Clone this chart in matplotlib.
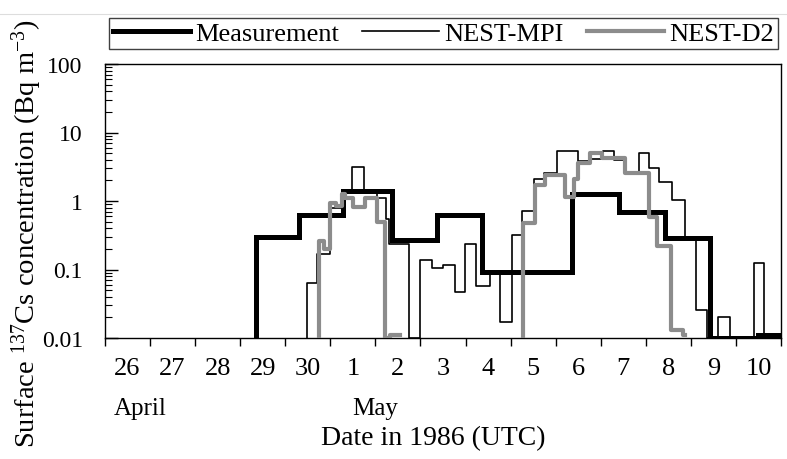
import matplotlib
matplotlib.use('Agg')
import matplotlib.pyplot as plt
import numpy as np
from matplotlib.ticker import FixedLocator, FixedFormatter, LogLocator, NullFormatter
from matplotlib.lines import Line2D

plt.rcParams['font.family'] = ['Liberation Serif', 'DejaVu Serif']
plt.rcParams['mathtext.fontset'] = 'custom'
plt.rcParams['mathtext.rm'] = 'Liberation Serif'
plt.rcParams['mathtext.it'] = 'Liberation Serif:italic'

# x = days since 26 April 1986 00:00 UTC (step edges, steps-post)
t_meas = [3.34, 3.34, 4.31, 5.28, 6.36, 7.37, 8.36, 10.37, 11.40, 12.43, 13.42, 14.48, 15.0]
v_meas = [0.01, 0.30, 0.63, 1.41, 0.27, 0.63, 0.091, 1.25, 0.68, 0.29, 0.01, 0.011, 0.011]

t_mpi = [4.49, 4.49, 4.71, 4.99, 5.30, 5.47, 5.75, 6.03, 6.23, 6.31,
         6.75, 7.00, 7.25, 7.51, 7.77, 7.99, 8.24, 8.54, 8.76, 9.02,
         9.25, 9.53, 9.75, 10.02, 10.50, 10.77, 11.05, 11.30, 11.54, 11.84,
         12.06, 12.30, 12.58, 12.86, 13.11, 13.35, 13.61, 13.86, 14.41, 14.63,
         14.91, 15.0]
v_mpi = [0.01, 0.064, 0.17, 0.80, 1.40, 3.1, 1.40, 1.10, 0.55, 0.235,
         0.01, 0.139, 0.105, 0.115, 0.047, 0.235, 0.058, 0.085, 0.017, 0.32,
         0.72, 2.1, 2.6, 5.3, 3.8, 4.1, 5.3, 4.0, 2.6, 5.1,
         3.0, 1.9, 1.02, 0.28, 0.026, 0.01, 0.02, 0.01, 0.125, 0.0115,
         0.01, 0.01]

t_d2 = [4.75, 4.75, 4.85, 4.99, 5.12, 5.25, 5.33, 5.50, 5.77, 6.03, 6.22, 6.32, 6.55,
        9.28, 9.28, 9.54, 9.76, 10.20, 10.40, 10.50, 10.76, 11.02, 11.27, 11.54,
        12.06, 12.25, 12.56, 12.82, 12.86]
v_d2 = [0.01, 0.26, 0.20, 0.95, 0.85, 1.25, 1.10, 0.81, 1.10, 0.50, 0.01, 0.011, np.nan,
        0.01, 0.48, 1.7, 2.4, 1.15, 2.1, 3.6, 5.0, 4.2, 4.3, 2.6,
        0.58, 0.22, 0.013, 0.011, np.nan]

day_labels = ['26', '27', '28', '29', '30', '1', '2', '3', '4', '5', '6', '7', '8', '9', '10']
month_labels = ['April', 'May']
month_pos = [0.78, 5.99]
y_ticks = [0.01, 0.1, 1, 10, 100]
y_labels = ['0.01', '0.1', '1', '10', '100']

W, H = 787, 460
fig = plt.figure(figsize=(W / 100, H / 100), dpi=100)
ax = fig.add_axes([105 / W, 1 - 339 / H, (781 - 105) / W, (339 - 65) / H])

l1, = ax.plot(t_meas, v_meas, drawstyle='steps-post', color='black', lw=3.6, zorder=3,
              solid_joinstyle='miter', label='Measurement')
l2, = ax.plot(t_mpi, v_mpi, drawstyle='steps-post', color='black', lw=1.2, zorder=4,
              label='NEST-MPI')
l3, = ax.plot(t_d2, v_d2, drawstyle='steps-post', color='#8c8c8c', lw=3.0, zorder=5,
              label='NEST-D2')

ax.set_yscale('log')
ax.set_ylim(0.01, 100)
ax.set_xlim(0, 15)

ax.yaxis.set_major_locator(FixedLocator(y_ticks))
ax.yaxis.set_major_formatter(FixedFormatter(y_labels))
ax.yaxis.set_minor_locator(LogLocator(base=10, subs=np.arange(2, 10)))
ax.yaxis.set_minor_formatter(NullFormatter())
ax.tick_params(axis='y', which='major', direction='in', length=9, width=1, labelsize=17, pad=16)
ax.tick_params(axis='y', which='minor', direction='in', length=5, width=0.8)

ax.xaxis.set_major_locator(FixedLocator(np.arange(0, 16)))
ax.xaxis.set_major_formatter(NullFormatter())
ax.xaxis.set_minor_locator(FixedLocator(np.arange(len(day_labels)) + 0.5))
ax.xaxis.set_minor_formatter(FixedFormatter(day_labels))
ax.tick_params(axis='x', which='major', direction='out', length=6, width=1)
ax.tick_params(axis='x', which='minor', length=0, labelsize=19, pad=14)

for s in ax.spines.values():
    s.set_color('black')
    s.set_linewidth(1.0)

for lab, xp in zip(month_labels, month_pos):
    ax.text(xp, (339 - 409) / 274, lab, transform=ax.get_xaxis_transform(),
            ha='center', va='center', fontsize=18)

fig.text(433 / W, 1 - 439 / H, 'Date in 1986 (UTC)', ha='center', va='center', fontsize=20)
fig.text(27 / W, 1 - 234 / H, 'Surface $^{137}$Cs concentration (Bq m$^{-3}$)',
         rotation=90, ha='center', va='center', fontsize=20.5)

leg = fig.legend(handles=[l1, l2, l3], loc='center', bbox_to_anchor=(443.5 / W, 1 - 34.5 / H),
                 ncol=3, frameon=True, fancybox=False, edgecolor='#404040', framealpha=1,
                 fontsize=19, handlelength=2.9, handletextpad=0.2, columnspacing=0.9,
                 borderpad=0.15, borderaxespad=0)
leg.get_frame().set_linewidth(1.0)

fig.add_artist(Line2D([0, 1], [1 - 14.5 / H] * 2, transform=fig.transFigure,
                      color='#dddddd', lw=0.8, zorder=0))

fig.savefig('out.png', dpi=100)
